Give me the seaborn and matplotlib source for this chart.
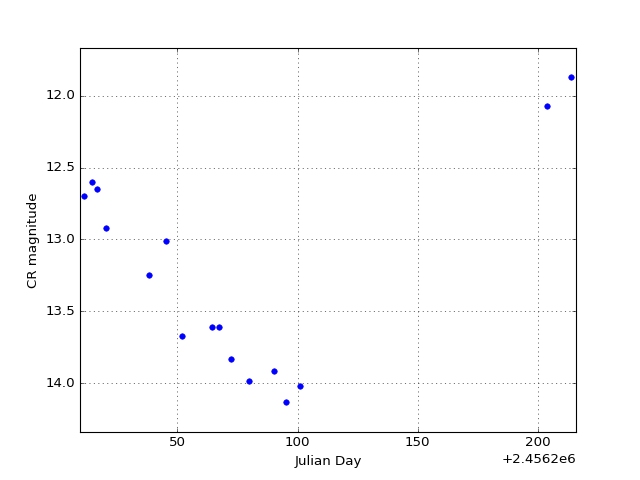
import matplotlib
matplotlib.use('Agg')
import matplotlib.pyplot as plt
from matplotlib.ticker import ScalarFormatter
import seaborn as sns
import pandas as pd

# Data (Julian Day, CR magnitude)
julian_day = [2456211.0, 2456214.4, 2456216.3, 2456220.2, 2456238.1, 2456245.2,
              2456251.9, 2456264.2, 2456267.1, 2456272.1, 2456280.0, 2456290.0,
              2456295.0, 2456301.0, 2456404.0, 2456414.0]
cr_mag = [12.70, 12.60, 12.65, 12.92, 13.25, 13.01,
          13.67, 13.61, 13.61, 13.83, 13.98, 13.91,
          14.13, 14.02, 12.07, 11.87]

df = pd.DataFrame({'jd': julian_day, 'mag': cr_mag})

plt.style.use('classic')
fig, ax = plt.subplots(figsize=(8, 6), dpi=80)

sns.scatterplot(data=df, x='jd', y='mag', ax=ax, color='b',
                edgecolor='b', linewidth=0.5, s=25, zorder=3)

ax.set_xlim(2456209.4, 2456416.0)
ax.set_ylim(14.337, 11.67)
ax.set_xticks([2456250, 2456300, 2456350, 2456400])
ax.set_yticks([12.0, 12.5, 13.0, 13.5, 14.0])
ax.xaxis.set_major_formatter(ScalarFormatter(useOffset=2456200))
ax.grid(True, linestyle=':', color='k', linewidth=0.5)
ax.set_xlabel('Julian Day')
ax.set_ylabel('CR magnitude')

plt.savefig('out.png', dpi=80)
plt.close()
